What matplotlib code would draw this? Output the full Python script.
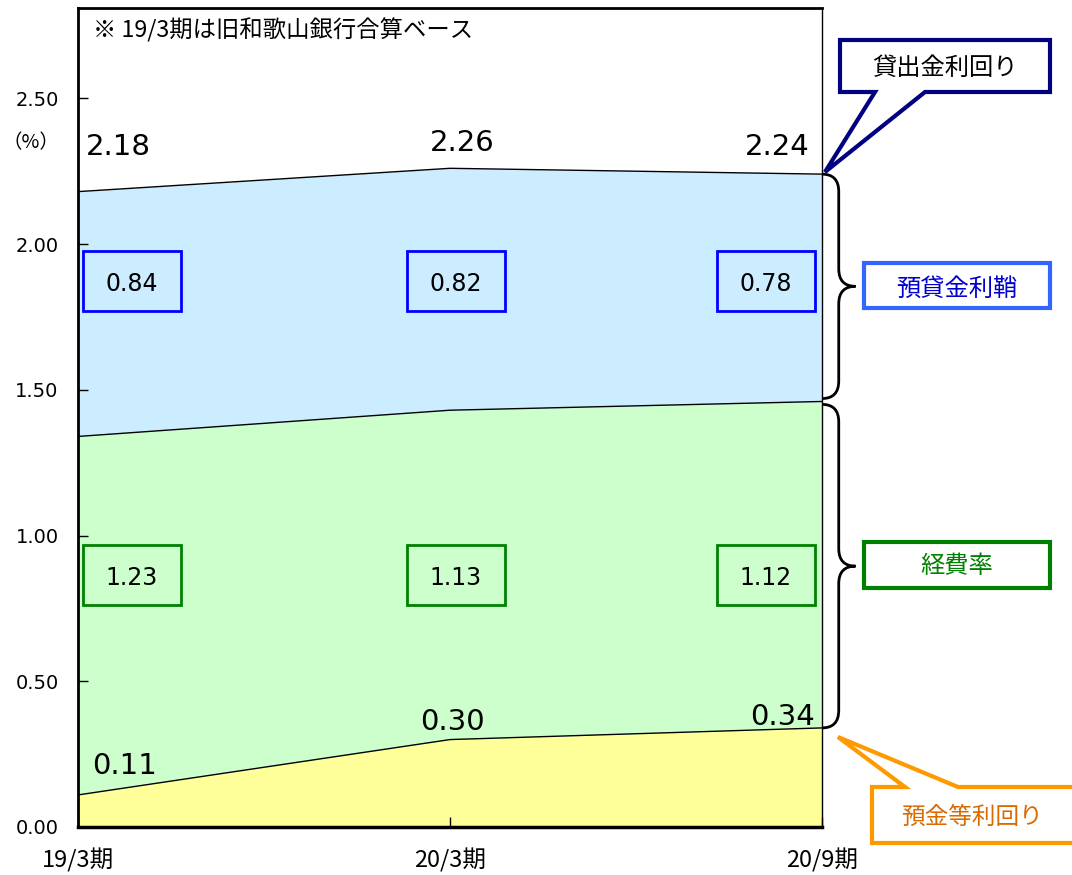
import numpy as np
import matplotlib.pyplot as plt
from matplotlib.patches import Polygon, PathPatch
from matplotlib.path import Path

plt.rcParams['font.family'] = ['DejaVu Sans', 'Noto Sans CJK JP']

# datos
periods = ['19/3期', '20/3期', '20/9期']
deposit_yield = [0.11, 0.30, 0.34]     # 預金等利回り
expense_ratio = [1.23, 1.13, 1.12]     # 経費率
spread = [0.84, 0.82, 0.78]            # 預貸金利鞘
loan_yield = [2.18, 2.26, 2.24]        # 貸出金利回り
yticks = [0.0, 0.5, 1.0, 1.5, 2.0, 2.5]

x = np.arange(len(periods))
lvl1 = np.array(deposit_yield)
lvl2 = lvl1 + np.array(expense_ratio)
lvl3 = np.array(loan_yield)

W, H = 1072, 875
fig = plt.figure(figsize=(W/100, H/100), dpi=100)
ax = fig.add_axes([78/W, 1-827/H, (822-78)/W, (827-8)/H])

ax.fill_between(x, 0, lvl1, color='#FFFF99', lw=0)
ax.fill_between(x, lvl1, lvl2, color='#CCFFCC', lw=0)
ax.fill_between(x, lvl2, lvl3, color='#CCECFF', lw=0)
for l in (lvl1, lvl2, lvl3):
    ax.plot(x, l, color='black', lw=1)

ax.set_xlim(0, 2)
ax.set_ylim(0, 2.81)
ax.set_yticks(yticks)
ax.set_yticklabels(['%.2f' % v for v in yticks], fontsize=14)
ax.set_xticks(x)
ax.set_xticklabels([])
ax.tick_params(direction='in', length=7, width=1)
ax.tick_params(axis='y', pad=14)
ax.spines['left'].set_linewidth(2)
ax.spines['bottom'].set_linewidth(2.5)
ax.spines['top'].set_linewidth(2)
ax.spines['right'].set_linewidth(1)

def fp(px, py):
    return (px/W, 1-py/H)

# etiquetas eje x
for xp, lab in zip([78, 450, 822], periods):
    fig.text(*fp(xp, 860), lab, ha='center', va='center', fontsize=17,
             family=['Noto Sans CJK JP'])
fig.text(*fp(31, 143), '（%）', ha='center', va='center', fontsize=14,
         family=['Noto Sans CJK JP'])
fig.text(*fp(93, 30), '※ 19/3期は旧和歌山銀行合算ベース', ha='left', va='center',
         fontsize=16.8, family=['Noto Sans CJK JP', 'DejaVu Sans'])

# valores arriba y abajo
top_pos = [(118, 147), (462, 143), (777, 147)]
for (xp, yp), v in zip(top_pos, loan_yield):
    fig.text(*fp(xp, yp), '%.2f' % v, ha='center', va='center', fontsize=21)
bot_pos = [(125, 766), (452, 722), (783, 717)]
for (xp, yp), v in zip(bot_pos, deposit_yield):
    fig.text(*fp(xp, yp), '%.2f' % v, ha='center', va='center', fontsize=21)

# cajas de valores
box_x = [132, 456, 766]
for xp, v in zip(box_x, spread):
    fig.text(*fp(xp, 284), '%.2f' % v, ha='center', va='center', fontsize=17)
    fig.patches.append(Polygon([fp(xp-49, 251), fp(xp+49, 251), fp(xp+49, 311), fp(xp-49, 311)],
                               closed=True, fill=False, ec='#0000FF', lw=2, transform=fig.transFigure))
for xp, v in zip(box_x, expense_ratio):
    fig.text(*fp(xp, 578), '%.2f' % v, ha='center', va='center', fontsize=17)
    fig.patches.append(Polygon([fp(xp-49, 545), fp(xp+49, 545), fp(xp+49, 605), fp(xp-49, 605)],
                               closed=True, fill=False, ec='#008000', lw=2, transform=fig.transFigure))

# llaves
def brace(y0, y1):
    xa, xb, xc = 2.0, 2.045, 2.09
    ym = (y0 + y1) / 2
    r = 0.06
    verts = [(xa, y0), (xb, y0), (xb, y0 - r),
             (xb, ym + r), (xb, ym), (xc, ym),
             (xb, ym), (xb, ym - r),
             (xb, y1 + r), (xb, y1), (xa, y1)]
    codes = [Path.MOVETO, Path.CURVE3, Path.CURVE3,
             Path.LINETO, Path.CURVE3, Path.CURVE3,
             Path.CURVE3, Path.CURVE3,
             Path.LINETO, Path.CURVE3, Path.CURVE3]
    ax.add_patch(PathPatch(Path(verts, codes), fill=False, lw=2, ec='black', clip_on=False))

brace(lvl3[-1], lvl2[-1] + 0.01)
brace(lvl2[-1] - 0.01, lvl1[-1])

# globos
navy = [(840, 40), (1050, 40), (1050, 92), (925, 92), (825, 172), (875, 92), (840, 92)]
fig.patches.append(Polygon([fp(*p) for p in navy], closed=True, fc='white', ec='#000080',
                           lw=3, transform=fig.transFigure))
fig.text(*fp(945, 68), '貸出金利回り', ha='center', va='center', fontsize=17.5,
         family=['Noto Sans CJK JP'])

orange = [(872, 787), (905, 787), (838, 737), (958, 787), (1080, 787), (1080, 843), (872, 843)]
fig.patches.append(Polygon([fp(*p) for p in orange], closed=True, fc='white', ec='#FF9900',
                           lw=3, transform=fig.transFigure))
fig.text(*fp(972, 817), '預金等利回り', ha='center', va='center', fontsize=17,
         color='#D96A00', family=['Noto Sans CJK JP'])

fig.patches.append(Polygon([fp(864, 263), fp(1050, 263), fp(1050, 308), fp(864, 308)], closed=True,
                           fc='white', ec='#3366FF', lw=3, transform=fig.transFigure))
fig.text(*fp(957, 289), '預貸金利鞘', ha='center', va='center', fontsize=17.5,
         color='#0000CC', family=['Noto Sans CJK JP'])

fig.patches.append(Polygon([fp(864, 542), fp(1050, 542), fp(1050, 588), fp(864, 588)], closed=True,
                           fc='white', ec='#008000', lw=3, transform=fig.transFigure))
fig.text(*fp(957, 566), '経費率', ha='center', va='center', fontsize=17.5,
         color='#008000', family=['Noto Sans CJK JP'])

fig.savefig('out.png', dpi=100)
